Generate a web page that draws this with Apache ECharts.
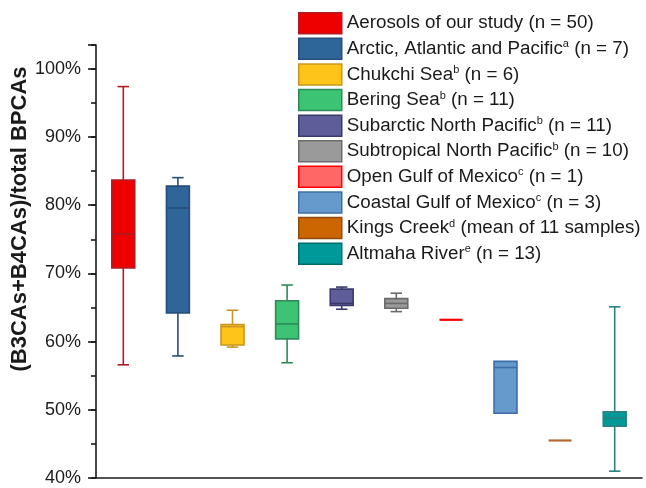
<!DOCTYPE html>
<html><head><meta charset="utf-8">
<script src="https://cdn.jsdelivr.net/npm/echarts@6/dist/echarts.min.js"></script>
<style>html,body{margin:0;padding:0;background:#fff}#c{width:646px;height:488px}</style>
</head><body><div id="c"></div>
<script>
// ---- data ----
const groups = ['Aerosols of our study', 'Arctic, Atlantic and Pacific', 'Chukchi Sea', 'Bering Sea',
  'Subarctic North Pacific', 'Subtropical North Pacific', 'Open Gulf of Mexico', 'Coastal Gulf of Mexico',
  'Kings Creek', 'Altmaha River'];
const notes = ['', 'a', 'b', 'b', 'b', 'b', 'c', 'c', 'd', 'e'];
const counts = ['(n = 50)', '(n = 7)', '(n = 6)', '(n = 11)', '(n = 11)', '(n = 10)', '(n = 1)', '(n = 3)',
  '(mean of 11 samples)', '(n = 13)'];
const mins    = [56.6, 57.9, 59.2, 56.9, 64.75, 64.4, 63.2, 49.5, 45.5, 41.0];
const q1s     = [70.8, 64.2, 59.5, 60.4, 65.3, 64.9, 63.2, 49.5, 45.5, 47.6];
const medians = [75.8, 79.6, 62.2, 62.6, 65.6, 65.6, 63.2, 56.2, 45.5, 48.8];
const q3s     = [83.7, 82.8, 62.5, 66.0, 67.7, 66.3, 63.2, 57.1, 45.5, 49.7];
const maxs    = [97.4, 84.05, 64.6, 68.3, 68.0, 67.1, 63.2, 57.1, 45.5, 65.1];
const yTicks  = [40, 50, 60, 70, 80, 90, 100];

// ---- styles ----
const fills   = ['#EE0000', '#2F6699', '#FFC41A', '#3CC373', '#5F5D99', '#9A9A9A', '#FF6666', '#6699CC', '#CC6600', '#009999'];
const strokes = ['#B01C24', '#254F7A', '#C8961E', '#2E8A58', '#3B3A6E', '#6B6B6B', '#FF0000', '#3D6DA8', '#B8692E', '#2B8080'];
const legendBorders = ['#B01C24', '#254F7A', '#C8961E', '#2E8A58', '#3B3A6E', '#6B6B6B', '#FF0000', '#3D6DA8', '#8E4A10', '#006B6B'];
const FONT = '"Liberation Sans", Arial, sans-serif';
const TXT = '#1a1a1a';

const seriesNames = groups.map((g, i) => g + (notes[i] ? '^' + notes[i] : '') + ' ' + counts[i]);

function renderBox(params, api) {
  const i = params.seriesIndex;
  const x = api.value(0);
  const pMin = api.coord([x, api.value(1)]);
  const pQ1 = api.coord([x, api.value(2)]);
  const pMed = api.coord([x, api.value(3)]);
  const pQ3 = api.coord([x, api.value(4)]);
  const pMax = api.coord([x, api.value(5)]);
  const band = api.size([1, 0])[0];
  const half = band * 0.21;
  const cap = half / 2;
  const cx = pMed[0];
  const stroke = strokes[i], fill = fills[i];
  const lw = 1.6;
  const ch = [];
  if (pQ3[1] - pMax[1] > 0.5) {
    ch.push({type: 'line', shape: {x1: cx, y1: pMax[1], x2: cx, y2: pQ3[1]}, style: {stroke, lineWidth: lw}});
    ch.push({type: 'line', shape: {x1: cx - cap, y1: pMax[1], x2: cx + cap, y2: pMax[1]}, style: {stroke, lineWidth: lw}});
  }
  if (pMin[1] - pQ1[1] > 0.5) {
    ch.push({type: 'line', shape: {x1: cx, y1: pQ1[1], x2: cx, y2: pMin[1]}, style: {stroke, lineWidth: lw}});
    ch.push({type: 'line', shape: {x1: cx - cap, y1: pMin[1], x2: cx + cap, y2: pMin[1]}, style: {stroke, lineWidth: lw}});
  }
  if (pQ1[1] - pQ3[1] > 0.5) {
    ch.push({type: 'rect', shape: {x: cx - half, y: pQ3[1], width: half * 2, height: pQ1[1] - pQ3[1]},
      style: {fill, stroke, lineWidth: lw}});
    ch.push({type: 'line', shape: {x1: cx - half, y1: pMed[1], x2: cx + half, y2: pMed[1]}, style: {stroke, lineWidth: lw}});
  } else {
    ch.push({type: 'line', shape: {x1: cx - half, y1: pMed[1], x2: cx + half, y2: pMed[1]}, style: {stroke, lineWidth: 2.2}});
  }
  return {type: 'group', children: ch};
}

const chart = echarts.init(document.getElementById('c'), null, {renderer: 'canvas'});
chart.setOption({
  animation: false,
  backgroundColor: '#fff',
  grid: {left: 96, right: 4, top: 45, bottom: 10, containLabel: false},
  xAxis: {
    type: 'category', data: seriesNames, boundaryGap: true,
    axisLine: {lineStyle: {color: TXT, width: 1.6}},
    axisTick: {alignWithLabel: true, interval: 0, length: 7, lineStyle: {color: TXT, width: 1.6}},
    axisLabel: {show: false, interval: 0},
    splitLine: {show: false}
  },
  yAxis: [{
    type: 'value', min: 40, max: 103.5, interval: 10, position: 'left',
    axisLine: {show: true, lineStyle: {color: TXT, width: 1.6}},
    axisTick: {show: true, length: 8, lineStyle: {color: TXT, width: 1.6}},
    axisLabel: {fontSize: 18, fontFamily: FONT, color: TXT, margin: 15,
      formatter: v => yTicks.indexOf(v) >= 0 ? v + '%' : ''},
    splitLine: {show: false}
  }, {
    type: 'value', min: 40, max: 103.5, interval: 5, position: 'left', offset: 0,
    axisLine: {show: false},
    axisTick: {show: true, length: 5, lineStyle: {color: TXT, width: 1.6}},
    axisLabel: {show: false},
    splitLine: {show: false}
  }],
  legend: {
    orient: 'vertical', left: 298, top: 12, padding: 0, itemWidth: 43, itemHeight: 21, itemGap: 3.1,
    icon: 'rect', selectedMode: false,
    textStyle: {fontSize: 18.8, lineHeight: 20, fontFamily: FONT, color: TXT,
      rich: {sup: {fontSize: 11, fontFamily: FONT, color: TXT, verticalAlign: 'top', lineHeight: 12}}},
    formatter: name => {
      const i = seriesNames.indexOf(name);
      return groups[i] + (notes[i] ? '{sup|' + notes[i] + '}' : '') + ' ' + counts[i];
    },
    data: seriesNames.map((n, i) => ({name: n, itemStyle: {color: fills[i], borderColor: legendBorders[i], borderWidth: 1.5}}))
  },
  graphic: [{
    type: 'text', x: 20, y: 219, rotation: Math.PI / 2,
    style: {text: '(B3CAs+B4CAs)/total BPCAs', font: 'bold 22px ' + FONT, fill: TXT,
      align: 'center', verticalAlign: 'middle', textAlign: 'center', textVerticalAlign: 'middle'}
  }],
  series: seriesNames.map((n, i) => ({
    type: 'custom', name: n, yAxisIndex: 0,
    itemStyle: {color: fills[i], borderColor: legendBorders[i]},
    encode: {x: 0, y: [1, 2, 3, 4, 5]},
    data: [[i, mins[i], q1s[i], medians[i], q3s[i], maxs[i]]],
    renderItem: renderBox
  }))
});
</script></body></html>
